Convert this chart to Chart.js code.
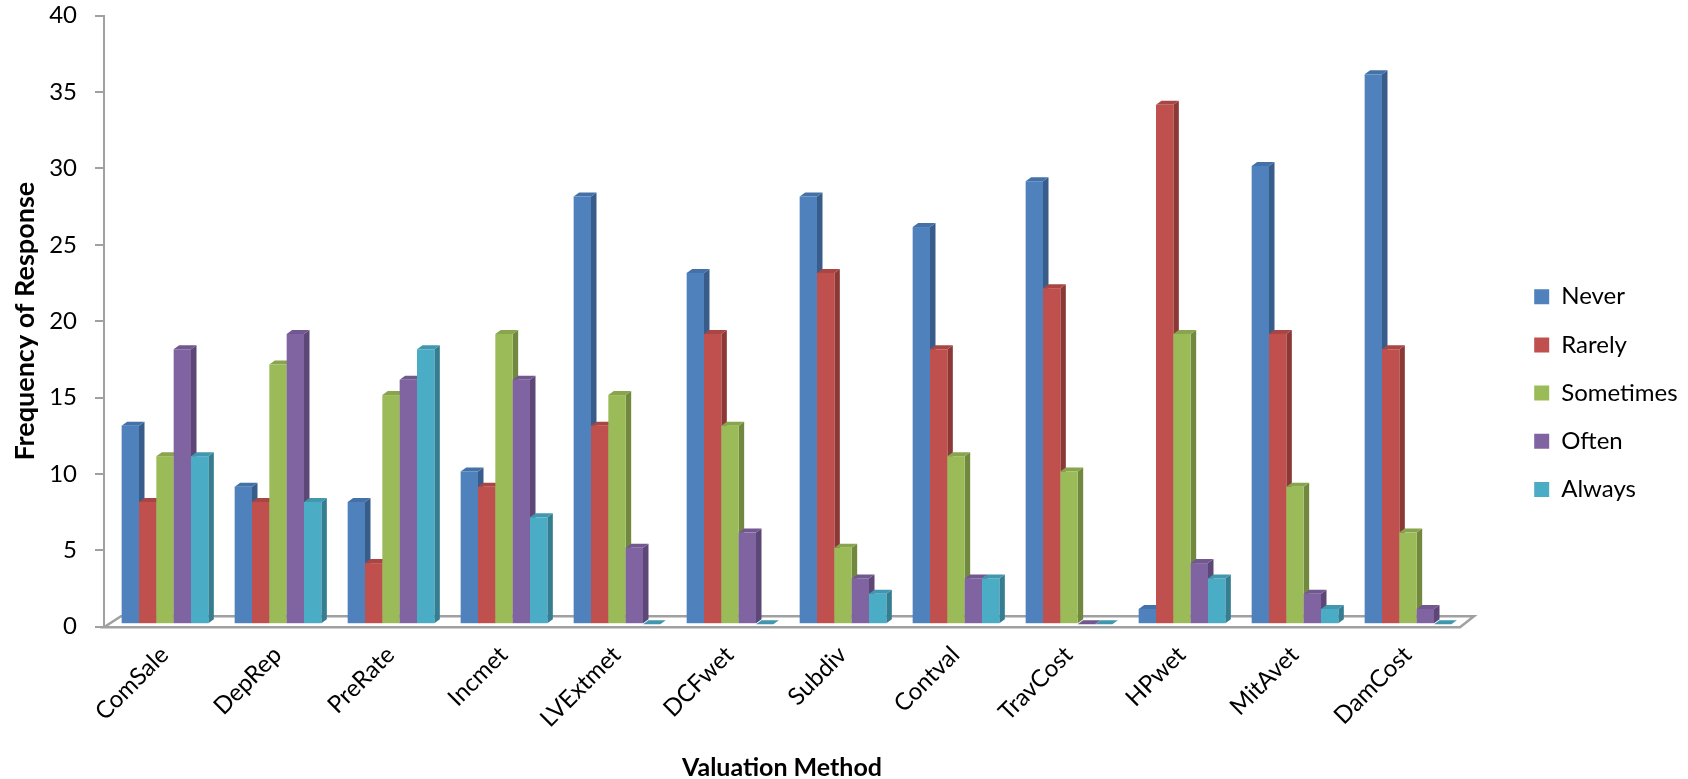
<!DOCTYPE html>
<html>
<head>
<meta charset="utf-8">
<title>Frequency of Response by Valuation Method</title>
<script src="https://cdn.jsdelivr.net/npm/chart.js@4.4.1/dist/chart.umd.min.js"></script>
<style>
  html, body { margin: 0; padding: 0; background: #ffffff; }
  #wrap { width: 1688px; height: 779px; }
</style>
</head>
<body>
<div id="wrap"><canvas id="chart" width="1688" height="779"></canvas></div>
<script>
// ---- data ----
const methods   = ['ComSale', 'DepRep', 'PreRate', 'Incmet', 'LVExtmet', 'DCFwet',
                   'Subdiv', 'Contval', 'TravCost', 'HPwet', 'MitAvet', 'DamCost'];
const never     = [13,  9,  8, 10, 28, 23, 28, 26, 29,  1, 30, 36];
const rarely    = [ 8,  8,  4,  9, 13, 19, 23, 18, 22, 34, 19, 18];
const sometimes = [11, 17, 15, 19, 15, 13,  5, 11, 10, 19,  9,  6];
const often     = [18, 19, 16, 16,  5,  6,  3,  3,  0,  4,  2,  1];
const always    = [11,  8, 18,  7,  0,  0,  2,  3,  0,  3,  1,  0];
const seriesNames = ['Never', 'Rarely', 'Sometimes', 'Often', 'Always'];
const seriesValues = [never, rarely, sometimes, often, always];
const yMin = 0, yMax = 40, yStep = 5;

// ---- styling ----
const frontColors = ['#4F81BD', '#C0504D', '#9BBB59', '#8064A2', '#4BACC6'];
const sideColors  = ['#385D8A', '#8C3836', '#71893F', '#5C4776', '#357D91'];
const topColors   = ['#4471A7', '#A94643', '#88A54E', '#71588F', '#4297AF'];
const axisGray = '#A0A0A0';
const FONT = 'Lato';
const TXT = 24;

const DX = 5.5;     // depth of each bar, horizontal
const DY = 4;       // depth of each bar, vertical
const LIFT = 2.5;   // bars stand slightly above the front floor edge
const SHIFT = 4.5;  // bars sit in the middle of the floor depth
const FLOOR_BACK_L = 17, FLOOR_BACK_R = 14, FLOOR_UP = 11;

const LEGEND_W = 178;
const PLOT_RIGHT = 1460;
const PAD_TOP = 15.7, PAD_BOTTOM = 8.5;
const PLOT_BOTTOM = 626.7;

function poly(ctx, pts) {
  ctx.beginPath();
  ctx.moveTo(pts[0][0], pts[0][1]);
  for (let k = 1; k < pts.length; k++) ctx.lineTo(pts[k][0], pts[k][1]);
  ctx.closePath();
  ctx.fill();
}

// keeps a gap between the plot and the legend column
const spacer = {
  position: 'right', weight: 0, fullSize: false, options: {},
  width: 0, height: 0, left: 0, right: 0, top: 0, bottom: 0,
  isHorizontal() { return false; },
  update(maxW, maxH) {
    this.width = Math.max(0, 1688 - LEGEND_W - PLOT_RIGHT);
    this.height = maxH;
  },
  getPadding() { return { left: 0, right: 0, top: 0, bottom: 0 }; },
  draw() {}
};

const layoutTweaks = {
  id: 'layoutTweaks',
  beforeLayout(chart) {
    const lg = chart.legend;
    if (lg && !lg._fixedWidth) {
      const fit = lg.fit;
      lg.fit = function () { fit.call(this); this.width = LEGEND_W; };
      lg._fixedWidth = true;
    }
    if (!chart._spacerAdded) {
      Chart.layouts.addBox(chart, spacer);
      chart._spacerAdded = true;
    }
  }
};

// floor + three-sided bars
const bars3d = {
  id: 'bars3d',
  beforeDatasetsDraw(chart) {
    const { ctx, chartArea: a } = chart;
    const fb = a.bottom + 0.5;
    const pts = [[a.left, fb], [a.right, fb],
                 [a.right + FLOOR_BACK_R, fb - FLOOR_UP], [a.left + FLOOR_BACK_L, fb - FLOOR_UP]];
    ctx.save();
    ctx.fillStyle = '#ffffff';
    poly(ctx, pts);
    ctx.strokeStyle = axisGray;
    ctx.lineWidth = 2.5;
    ctx.lineJoin = 'miter';
    ctx.stroke();
    ctx.restore();
  },
  beforeDatasetDraw() { return false; },
  afterDatasetsDraw(chart) {
    const ctx = chart.ctx;
    const metas = chart.data.datasets.map((_, i) => chart.getDatasetMeta(i));
    const n = chart.data.labels.length;
    ctx.save();
    for (let i = 0; i < n; i++) {
      for (let d = 0; d < metas.length; d++) {
        const el = metas[d].data[i];
        if (!el) continue;
        const { x, y, base, width } = el.getProps(['x', 'y', 'base', 'width'], true);
        const l = x - width / 2 + SHIFT, r = x + width / 2 + SHIFT;
        const t = y - LIFT, b = base - LIFT;
        ctx.fillStyle = sideColors[d];
        poly(ctx, [[r, t], [r + DX, t - DY], [r + DX, b - DY], [r, b]]);
        ctx.fillStyle = topColors[d];
        poly(ctx, [[l, t], [l + DX, t - DY], [r + DX, t - DY], [r, t]]);
        ctx.fillStyle = frontColors[d];
        ctx.fillRect(l, t, r - l, b - t);
      }
    }
    ctx.restore();
  }
};

const datasets = seriesNames.map((name, i) => ({
  label: name,
  data: seriesValues[i],
  backgroundColor: frontColors[i],
  borderWidth: 0,
  categoryPercentage: 0.767,
  barPercentage: 1.0
}));

new Chart(document.getElementById('chart'), {
  type: 'bar',
  data: { labels: methods, datasets },
  plugins: [layoutTweaks, bars3d],
  options: {
    responsive: false,
    animation: false,
    devicePixelRatio: 1,
    layout: { padding: { top: PAD_TOP, bottom: PAD_BOTTOM, left: 0, right: 0 } },
    plugins: {
      legend: {
        position: 'right',
        labels: {
          font: { family: FONT, size: TXT },
          color: '#000000',
          boxWidth: 15,
          boxHeight: 15,
          padding: 24.2
        }
      },
      tooltip: { enabled: false }
    },
    scales: {
      x: {
        grid: { display: false, drawTicks: false },
        border: { display: false },
        ticks: {
          font: { family: FONT, size: TXT },
          color: '#000000',
          minRotation: 45,
          maxRotation: 45,
          autoSkip: false,
          padding: 14,
          labelOffset: 4
        },
        title: {
          display: true,
          text: 'Valuation Method',
          font: { family: FONT, size: 25, weight: 'bold' },
          color: '#000000',
          padding: { top: 0, bottom: -12.5 }
        },
        afterFit(scale) { scale.height = (779 - PAD_BOTTOM) - PLOT_BOTTOM; }
      },
      y: {
        min: yMin,
        max: yMax,
        ticks: {
          stepSize: yStep,
          font: { family: FONT, size: TXT },
          color: '#000000',
          padding: 18
        },
        grid: {
          drawOnChartArea: false,
          drawTicks: true,
          tickLength: 9,
          color: axisGray,
          lineWidth: 2
        },
        border: { display: true, color: axisGray, width: 2 },
        title: {
          display: true,
          text: 'Frequency of Response',
          font: { family: FONT, size: 27, weight: 'bold' },
          color: '#000000',
          padding: { top: 9.3, bottom: 0 }
        },
        afterFit(scale) {
          scale.width = 104;
          scale.paddingTop = 0;
          scale.paddingBottom = 0;
        }
      }
    }
  }
});
</script>
</body>
</html>
